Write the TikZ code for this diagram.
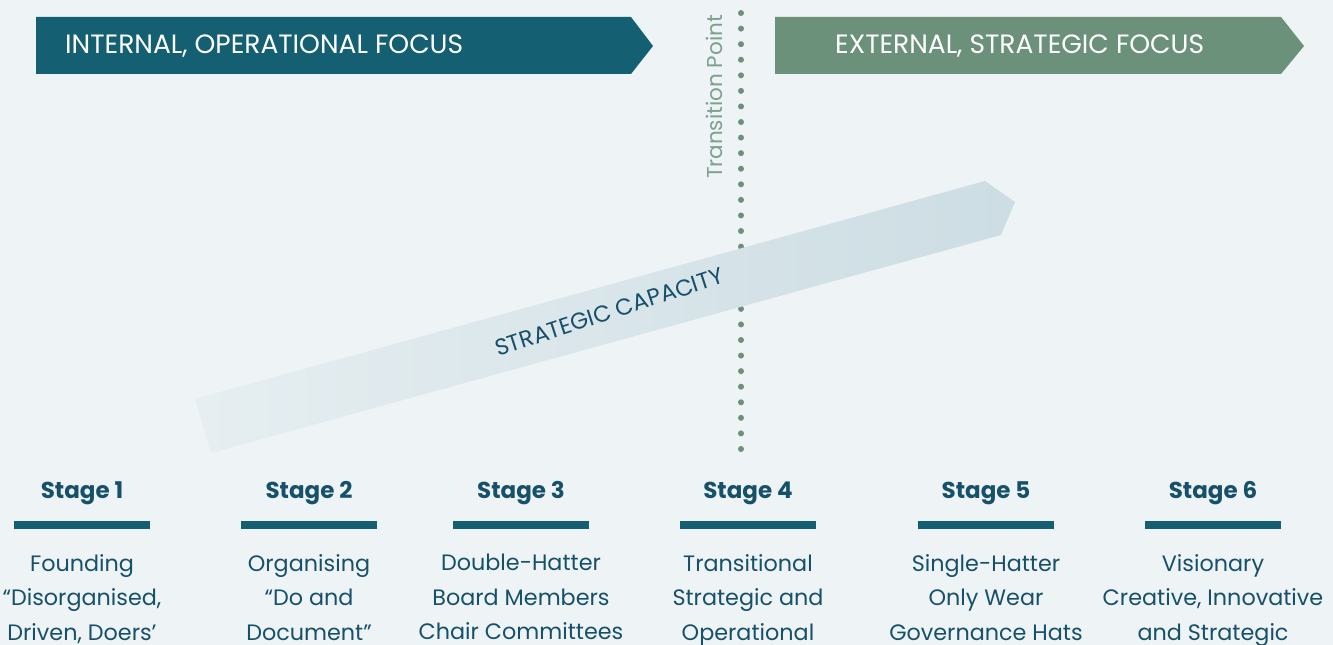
\documentclass[tikz,border=0pt]{standalone}
\usepackage{fontspec}
\setmainfont{Poppins}
\definecolor{bgcol}{HTML}{EEF4F5}
\definecolor{tealcol}{HTML}{155F73}
\definecolor{greencol}{HTML}{6B917B}
\definecolor{tpcol}{HTML}{7FA08D}
\definecolor{txtcol}{HTML}{17506A}
\definecolor{capl}{HTML}{E6EEF1}
\definecolor{capr}{HTML}{CCDDE3}
\tikzset{
  bannertxt/.style={font=\fontsize{26.5}{30}\selectfont, text=white, anchor=west, inner sep=0},
  stagelbl/.style={font=\fontsize{23}{26}\selectfont\bfseries, text=txtcol, inner sep=0},
  stagebar/.style={fill=tealcol, minimum width=136pt, minimum height=8pt, inner sep=0},
  stagedesc/.style={font=\fontsize{22.3}{34.5}\selectfont, text=txtcol, align=center, inner sep=0, anchor=north},
}
\begin{document}
\begin{tikzpicture}[x=1pt,y=1pt]
\useasboundingbox (0,0) rectangle (1333,645);
\fill[bgcol] (0,0) rectangle (1333,645);
% banners
\fill[tealcol] (36,628) -- (631,628) -- (653,599) -- (631,571) -- (36,571) -- cycle;
\node[bannertxt] (intl) at (65,599) {INTERNAL, OPERATIONAL FOCUS};
\fill[greencol] (775,628) -- (1281,628) -- (1304,599) -- (1281,571) -- (775,571) -- cycle;
\node[bannertxt] (extl) at (835,599) {EXTERNAL, STRATEGIC FOCUS};
% transition line
\foreach \i in {0,...,28}
  \fill[greencol] (741,{196+\i*15.57}) circle (3pt);
\node[rotate=90, font=\fontsize{21.5}{24}\selectfont, text=tpcol, inner sep=0] (tp) at (714,548) {Transition Point};
% capacity arrow
\path[left color=capl, right color=capr] (195,246) -- (985,464) -- (1015,443) -- (1001,410) -- (211,192) -- cycle;
\node[rotate=18, font=\fontsize{23}{26}\selectfont, text=txtcol, inner sep=0] (cap) at (609,333) {STRATEGIC CAPACITY};
% stages
\foreach \x/\n/\a/\b/\c in {82/1/Founding/{“Disorganised,}/{Driven, Doers’},
    309/2/Organising/{“Do and}/{Document”},
    521/3/Double-Hatter/{Board Members}/{Chair Committees},
    748/4/Transitional/{Strategic and}/{Operational},
    986/5/Single-Hatter/{Only Wear}/{Governance Hats},
    1213/6/Visionary/{Creative, Innovative}/{and Strategic}}{
  \node[stagelbl] (stg\n) at (\x,152) {Stage \n};
  \node[stagebar] (bar\n) at (\x,120) {};
  \node[stagedesc] (desc\n) at (\x,91) {\a\\\b\\\c};
}
\end{tikzpicture}
\end{document}
